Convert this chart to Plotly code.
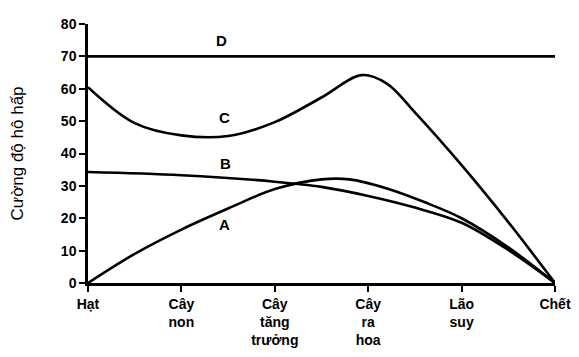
import plotly.graph_objects as go

# ---- data ----
stages = ["Hạt", "Cây<br>non", "Cây<br>tăng<br>trưởng", "Cây<br>ra<br>hoa", "Lão<br>suy", "Chết"]
stage_pos = [0, 1, 2, 3, 4, 5]

a_x = [0, 0.5, 1.0, 1.5, 2.0, 2.5, 2.8, 3.2, 3.6, 4.0, 4.5, 5]
a_y = [0, 9, 16.5, 23, 29, 32, 32, 29.2, 25, 20, 11, 0]

b_x = [0, 1.0, 2.0, 2.5, 3.0, 3.5, 4.0, 4.5, 5]
b_y = [34.3, 33.3, 31.3, 29.7, 26.9, 23.3, 18.6, 10.2, 0]

c_x = [0, 0.5, 1.0, 1.5, 2.0, 2.5, 2.93, 3.2, 3.5, 4.0, 4.5, 5]
c_y = [60.5, 49.4, 45.6, 45.4, 49.7, 57.3, 64.2, 61.6, 52.7, 36.4, 18.8, 0]

d_x = [0, 5]
d_y = [70, 70]

labels = ["A", "B", "C", "D"]
label_x = [1.46, 1.47, 1.46, 1.43]
label_y = [18.2, 37, 51, 75]

y_ticks = [0, 10, 20, 30, 40, 50, 60, 70, 80]

# ---- figure ----
fig = go.Figure()
line = dict(color="black", width=2.6, shape="spline", smoothing=1.0)
for xs, ys in [(a_x, a_y), (b_x, b_y), (c_x, c_y)]:
    fig.add_trace(go.Scatter(x=xs, y=ys, mode="lines", line=line, hoverinfo="skip", showlegend=False))
fig.add_trace(go.Scatter(x=d_x, y=d_y, mode="lines", line=dict(color="black", width=2.6),
                         hoverinfo="skip", showlegend=False))

for t, lx, ly in zip(labels, label_x, label_y):
    fig.add_annotation(x=lx, y=ly, text=t, showarrow=False,
                       font=dict(family="Liberation Sans", size=15, color="black", weight="bold"))

font_main = dict(family="Liberation Sans", size=14, color="black", weight="bold")

fig.update_layout(
    width=579, height=357,
    margin=dict(l=80, r=32, t=16, b=82),
    plot_bgcolor="white", paper_bgcolor="white",
    xaxis=dict(range=[0, 5], tickvals=stage_pos, ticktext=stages, ticks="outside", ticklen=6,
               tickwidth=2, tickcolor="black", showline=True, linecolor="black", linewidth=2.5,
               showgrid=False, zeroline=False, tickfont=font_main, automargin=False),
    yaxis=dict(range=[0, 80], tickvals=y_ticks, ticks="outside", ticklen=6, tickwidth=2,
               tickcolor="black", showline=True, linecolor="black", linewidth=2.5,
               showgrid=False, zeroline=False, tickfont=font_main, automargin=False,
               title=dict(text="Cường độ hô hấp", standoff=36,
                          font=dict(family="Liberation Sans", size=17, color="black"))),
    xaxis2=dict(range=[0, 5], overlaying="x", anchor="y", tickvals=stage_pos, ticks="inside",
                ticklen=6, tickwidth=2, tickcolor="black", showticklabels=False,
                showgrid=False, zeroline=False, showline=False, automargin=False),
    yaxis2=dict(range=[0, 80], overlaying="y", anchor="x", tickvals=y_ticks, ticks="inside",
                ticklen=6, tickwidth=2, tickcolor="black", showticklabels=False,
                showgrid=False, zeroline=False, showline=False, automargin=False),
)

fig.write_html("out.html")
